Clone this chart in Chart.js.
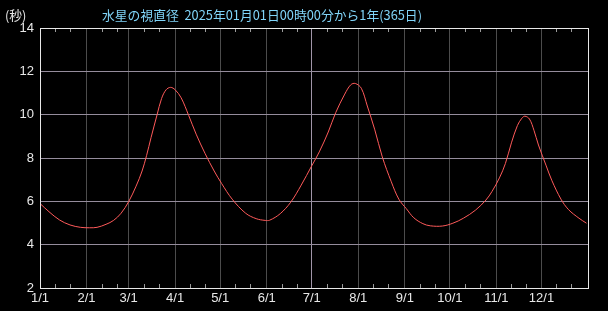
<!DOCTYPE html>
<html><head><meta charset="utf-8">
<script src="https://cdn.jsdelivr.net/npm/chart.js@4/dist/chart.umd.min.js"></script>
<style>html,body{margin:0;padding:0;background:#000;}#wrap{width:608px;height:311px;}</style>
</head><body><div id="wrap"><canvas id="c" width="608" height="311"></canvas></div>
<script>
const titleText = "水星の視直径  2025年01月01日00時00分から1年(365日)";
const unitText = "(秒)";
const monthStarts = [0,31,59,90,120,151,181,212,243,273,304,334];
const monthLabels = ["1/1","2/1","3/1","4/1","5/1","6/1","7/1","8/1","9/1","10/1","11/1","12/1"];
const minorTickDays = monthStarts.flatMap(d => [d+10, d+20]);
const yTicks = [2,4,6,8,10,12,14];
const days = [0,6,13,20,27,33,38,44,49,54,59,64,68,71,74,78,81,84,87,90,94,99,104,110,116,121,128,137,144,150,153,160,167,174,181,186,192,197,203,207,210,214,218,223,228,234,239,244,249,255,260,268,275,282,290,297,301,306,310,314,318,321,323,326,329,332,337,341,347,352,359,364];
const diameter = [5.90,5.52,5.14,4.91,4.80,4.78,4.80,4.94,5.12,5.45,5.98,6.70,7.40,8.12,8.95,10.0,10.75,11.15,11.26,11.15,10.78,9.97,9.10,8.20,7.40,6.82,6.10,5.45,5.20,5.12,5.13,5.43,5.96,6.75,7.64,8.28,9.20,10.10,10.95,11.38,11.44,11.22,10.40,9.30,8.05,6.90,6.10,5.66,5.24,4.97,4.87,4.86,4.99,5.22,5.59,6.06,6.45,7.08,7.75,8.70,9.50,9.84,9.93,9.80,9.28,8.60,7.67,6.95,6.10,5.62,5.22,4.99];

const points = days.map((d,i)=>({x:d,y:diameter[i]}));

const frame = {
  id:'frame',
  afterDatasetsDraw(chart){
    const {ctx, chartArea:a, scales:{x}} = chart;
    ctx.save();
    ctx.strokeStyle = '#9a9a9a'; ctx.lineWidth = 1;
    minorTickDays.forEach(d=>{
      const px = Math.round(x.getPixelForValue(d))+0.5;
      ctx.beginPath();
      ctx.moveTo(px,a.top); ctx.lineTo(px,a.top+4);
      ctx.moveTo(px,a.bottom); ctx.lineTo(px,a.bottom-4);
      ctx.stroke();
    });
    ctx.strokeStyle = '#e8e8e8';
    ctx.strokeRect(Math.round(a.left)+0.5, Math.round(a.top)+0.5, Math.round(a.right-a.left), Math.round(a.bottom-a.top));
    ctx.restore();
  },
  afterDraw(chart){
    const ctx = chart.ctx;
    ctx.save();
    ctx.textBaseline='middle';
    ctx.textAlign='left';
    ctx.font = '12.8px "Noto Sans CJK JP", sans-serif';
    ctx.fillStyle = '#80d4f8';
    ctx.fillText(titleText, 102, 15);
    ctx.fillStyle = '#e8e8e8';
    ctx.fillText(unitText, 5, 15);
    ctx.restore();
  }
};

new Chart(document.getElementById('c'), {
  type:'line',
  data:{datasets:[{data:points, borderColor:'#ff5a5a', borderWidth:1, pointRadius:0, tension:0.35, fill:false}]},
  options:{
    responsive:false, animation:false, devicePixelRatio:1,
    layout:{padding:{top:28, right:20, left:0, bottom:0}},
    plugins:{legend:{display:false}, tooltip:{enabled:false}, title:{display:false}},
    scales:{
      x:{type:'linear', min:0, max:365,
        afterBuildTicks(s){ s.ticks = monthStarts.map(v=>({value:v})); },
        afterFit(s){ s.height = 23; },
        ticks:{autoSkip:false, maxRotation:0, padding:3, color:'#e8e8e8', font:{family:'"Liberation Sans", sans-serif', size:13},
          callback(v){ const i = monthStarts.indexOf(v); return i>=0 ? monthLabels[i] : ''; }},
        grid:{drawTicks:false, color(ctx){ const v = ctx.tick && ctx.tick.value; if (v===0) return 'rgba(0,0,0,0)'; return v===181 ? '#a095a8' : '#4c4c4c'; }},
        border:{display:false}
      },
      y:{min:2, max:14,
        afterBuildTicks(s){ s.ticks = yTicks.map(v=>({value:v})); },
        afterFit(s){ s.width = 40; },
        ticks:{padding:6, color:'#e8e8e8', font:{family:'"Liberation Sans", sans-serif', size:13}},
        grid:{drawTicks:false, color(ctx){ const v = ctx.tick && ctx.tick.value; return (v===2||v===14) ? 'rgba(0,0,0,0)' : '#958c9c'; }},
        border:{display:false}
      }
    }
  },
  plugins:[frame]
});
</script></body></html>
